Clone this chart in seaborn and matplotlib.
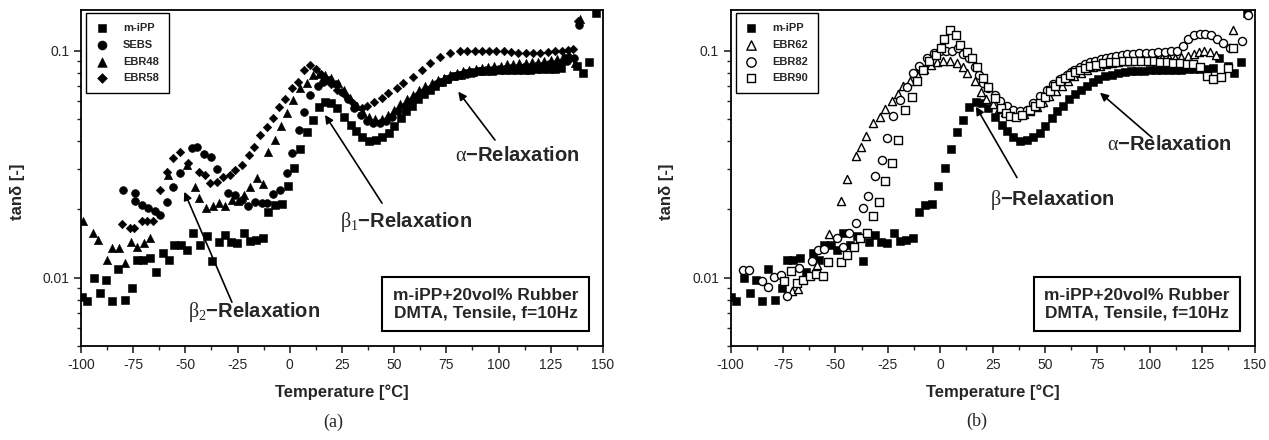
import numpy as np
import pandas as pd
import matplotlib
matplotlib.use("Agg")
import matplotlib.pyplot as plt
import seaborn as sns
from matplotlib.ticker import (LogLocator, NullFormatter, FixedLocator,
                               FuncFormatter, MultipleLocator)

sns.set_style("ticks")
plt.rcParams['font.family'] = ['Liberation Sans', 'DejaVu Sans']
plt.rcParams['mathtext.fontset'] = 'custom'
plt.rcParams['mathtext.rm'] = 'Liberation Serif'
plt.rcParams['mathtext.it'] = 'Liberation Serif'
plt.rcParams['mathtext.bf'] = 'Liberation Serif:bold'
plt.rcParams['axes.unicode_minus'] = False

# ---------------- data ----------------
# m-iPP (same sample in both panels)
t_mipp = [-99.7, -97.3, -93.8, -90.9, -88.0, -85.0, -82.1, -78.8, -75.7, -73.0,
          -70.2, -67.0, -64.1, -60.9, -58.0, -55.5, -52.3, -49.1, -46.2, -43.0,
          -39.8, -37.1, -33.9, -31.0, -28.3, -25.2, -21.9, -19.0, -16.3, -13.0,
          -10.3, -7.1, -3.9, -1.0, 2.2, 4.9, 8.1, 11.0, 13.8, 16.9,
          20.0, 22.8, 26.1, 29.3, 31.7, 34.8, 38.0, 41.2, 44.4, 47.6,
          50.0, 53.2, 55.8, 58.7, 61.5, 64.3, 67.0, 69.8, 72.7, 75.4,
          78.6, 81.8, 85.0, 88.0, 91.0, 94.0, 97.0, 100.0, 103.0, 106.0,
          109.0, 112.0, 115.0, 118.0, 121.0, 124.0, 127.0, 130.0, 133.0, 137.4,
          140.3, 143.3, 146.5]
tan_mipp = [0.0082, 0.0079, 0.0100, 0.0086, 0.0098, 0.0079, 0.0109, 0.0080, 0.0090, 0.0120,
            0.0120, 0.0122, 0.0106, 0.0129, 0.0120, 0.0139, 0.0140, 0.0133, 0.0157, 0.0139,
            0.0153, 0.0119, 0.0143, 0.0154, 0.0143, 0.0142, 0.0157, 0.0145, 0.0147, 0.0150,
            0.0195, 0.0209, 0.0211, 0.0254, 0.0305, 0.0368, 0.0440, 0.0495, 0.0567, 0.0596,
            0.0590, 0.0558, 0.0510, 0.0472, 0.0441, 0.0417, 0.0399, 0.0403, 0.0417, 0.0434,
            0.0467, 0.0506, 0.0541, 0.0573, 0.0613, 0.0647, 0.0673, 0.0701, 0.0725, 0.0750,
            0.0770, 0.0785, 0.0800, 0.0805, 0.0810, 0.0812, 0.0815, 0.0818, 0.0820, 0.0820,
            0.0822, 0.0823, 0.0825, 0.0827, 0.0830, 0.0830, 0.0832, 0.0835, 0.0930, 0.0853,
            0.0800, 0.0890, 0.1460]

# panel (a)
t_sebs = [-80.0, -74.0, -74.0, -71.0, -67.8, -64.6, -62.0, -58.7, -56.1, -52.8,
          -47.0, -44.2, -41.0, -37.8, -35.0, -29.4, -26.1, -22.9, -19.8, -16.7,
          -13.5, -11.0, -7.9, -4.5, -1.5, 1.3, 4.2, 6.9, 9.8, 13.3,
          16.0, 19.0, 22.0, 25.0, 28.0, 31.0, 34.0, 37.0, 40.0, 43.0,
          46.0, 49.0, 52.0, 55.0, 58.0, 61.0, 64.0, 67.0, 70.0, 73.0,
          76.0, 79.0, 82.0, 85.0, 88.0, 91.0, 94.0, 97.0, 100.0, 103.0,
          106.0, 109.0, 112.0, 115.0, 118.0, 121.0, 124.0, 127.0, 130.0, 133.0,
          136.0, 138.5]
tan_sebs = [0.0243, 0.0237, 0.0218, 0.0210, 0.0202, 0.0197, 0.0189, 0.0215, 0.0252, 0.0290,
            0.0372, 0.0375, 0.0350, 0.0339, 0.0300, 0.0235, 0.0231, 0.0219, 0.0206, 0.0216,
            0.0214, 0.0213, 0.0234, 0.0243, 0.0288, 0.0353, 0.0448, 0.0539, 0.0638, 0.0696,
            0.0730, 0.0740, 0.0710, 0.0660, 0.0610, 0.0560, 0.0520, 0.0490, 0.0480, 0.0480,
            0.0490, 0.0510, 0.0540, 0.0570, 0.0600, 0.0630, 0.0660, 0.0680, 0.0710, 0.0730,
            0.0750, 0.0770, 0.0780, 0.0790, 0.0800, 0.0810, 0.0820, 0.0820, 0.0830, 0.0830,
            0.0840, 0.0840, 0.0850, 0.0850, 0.0860, 0.0860, 0.0870, 0.0870, 0.0880, 0.0900,
            0.0930, 0.1300]

t_ebr48 = [-99.2, -94.1, -91.7, -87.7, -85.2, -82.0, -78.8, -76.2, -73.0, -69.7,
           -66.8, -58.2, -49.4, -45.3, -43.7, -40.1, -36.9, -33.7, -31.0, -27.8,
           -24.6, -21.9, -19.0, -15.9, -13.0, -10.2, -7.1, -4.2, -1.5, 1.7,
           4.9, 8.1, 11.0, 14.0, 17.0, 20.0, 23.0, 26.0, 29.0, 32.0,
           35.0, 38.0, 41.0, 44.0, 47.0, 50.0, 53.0, 56.0, 59.0, 62.0,
           65.0, 68.0, 71.0, 74.0, 77.0, 80.0, 83.0, 86.0, 89.0, 92.0,
           95.0, 98.0, 101.0, 104.0, 107.0, 110.0, 113.0, 116.0, 119.0, 122.0,
           125.0, 128.0, 131.0, 134.0, 136.5, 139.0]
tan_ebr48 = [0.0177, 0.0157, 0.0147, 0.0120, 0.0135, 0.0135, 0.0116, 0.0144, 0.0137, 0.0142,
             0.0149, 0.0283, 0.0314, 0.0252, 0.0224, 0.0202, 0.0206, 0.0213, 0.0207, 0.0219,
             0.0218, 0.0231, 0.0252, 0.0274, 0.0259, 0.0359, 0.0404, 0.0466, 0.0533, 0.0607,
             0.0683, 0.0723, 0.0780, 0.0790, 0.0780, 0.0760, 0.0720, 0.0670, 0.0620, 0.0570,
             0.0530, 0.0510, 0.0500, 0.0500, 0.0520, 0.0550, 0.0580, 0.0610, 0.0640, 0.0670,
             0.0700, 0.0720, 0.0740, 0.0760, 0.0780, 0.0800, 0.0810, 0.0820, 0.0830, 0.0840,
             0.0850, 0.0860, 0.0860, 0.0870, 0.0870, 0.0880, 0.0880, 0.0890, 0.0890, 0.0900,
             0.0910, 0.0920, 0.0940, 0.0960, 0.0880, 0.1380]

t_ebr58 = [-80.5, -76.5, -74.5, -71.0, -68.3, -65.4, -62.0, -58.7, -55.7, -52.4,
           -48.6, -43.7, -40.5, -38.1, -35.0, -31.8, -28.8, -26.1, -22.9, -19.7,
           -17.0, -14.1, -11.0, -8.2, -5.0, -2.2, 0.9, 4.1, 6.9, 9.8,
           12.5, 15.0, 17.5, 20.0, 22.5, 26.4, 30.4, 34.4, 36.8, 40.3,
           44.0, 47.2, 51.2, 54.4, 59.2, 63.2, 67.2, 72.0, 76.7, 81.5,
           85.0, 88.5, 92.0, 95.5, 99.0, 102.5, 106.0, 109.5, 113.0, 116.5,
           120.0, 123.5, 127.0, 130.5, 133.5, 135.8, 138.0]
tan_ebr58 = [0.0173, 0.0165, 0.0165, 0.0177, 0.0177, 0.0177, 0.0243, 0.0293, 0.0336, 0.0359,
             0.0319, 0.0293, 0.0283, 0.0261, 0.0265, 0.0279, 0.0283, 0.0298, 0.0314, 0.0347,
             0.0378, 0.0425, 0.0460, 0.0504, 0.0567, 0.0610, 0.0683, 0.0730, 0.0822, 0.0865,
             0.0830, 0.0790, 0.0750, 0.0710, 0.0670, 0.0638, 0.0587, 0.0557, 0.0570, 0.0596,
             0.0617, 0.0650, 0.0683, 0.0723, 0.0768, 0.0822, 0.0880, 0.0942, 0.0975, 0.1000,
             0.1000, 0.1000, 0.1000, 0.1000, 0.1000, 0.1000, 0.0990, 0.0980, 0.0975, 0.0975,
             0.0980, 0.0990, 0.1000, 0.1000, 0.1010, 0.1020, 0.1350]

# panel (b)
t_ebr62 = [-70.9, -68.0, -59.0, -53.1, -47.3, -44.4, -40.2, -38.0, -35.4, -32.0,
           -28.8, -26.4, -23.2, -20.0, -17.7, -14.5, -11.3, -7.8, -4.6, -1.7,
           1.5, 4.7, 7.9, 10.7, 12.9, 16.6, 19.3, 22.0, 25.0, 28.0,
           31.0, 34.0, 37.0, 40.0, 43.0, 46.0, 49.0, 52.0, 55.0, 58.0,
           61.0, 64.0, 67.0, 70.0, 73.0, 76.0, 79.0, 82.0, 85.0, 88.0,
           91.0, 94.0, 97.0, 100.0, 103.0, 106.0, 109.0, 112.0, 115.0, 118.0,
           121.0, 123.5, 126.0, 128.5, 131.5, 139.5]
tan_ebr62 = [0.0087, 0.0089, 0.0114, 0.0155, 0.0217, 0.0272, 0.0342, 0.0377, 0.0420, 0.0480,
             0.0510, 0.0553, 0.0598, 0.0647, 0.0701, 0.0732, 0.0790, 0.0830, 0.0868, 0.0888,
             0.0900, 0.0900, 0.0880, 0.0850, 0.0798, 0.0732, 0.0655, 0.0610, 0.0580, 0.0555,
             0.0535, 0.0525, 0.0520, 0.0525, 0.0540, 0.0565, 0.0595, 0.0630, 0.0665, 0.0700,
             0.0735, 0.0770, 0.0800, 0.0825, 0.0845, 0.0860, 0.0875, 0.0885, 0.0895, 0.0900,
             0.0905, 0.0910, 0.0915, 0.0920, 0.0920, 0.0925, 0.0930, 0.0930, 0.0935, 0.0950,
             0.0970, 0.0990, 0.1000, 0.0990, 0.0960, 0.1230]

t_ebr82 = [-94.3, -91.1, -85.2, -82.3, -79.3, -76.1, -73.3, -67.3, -61.4, -58.2,
           -55.5, -49.4, -46.3, -43.4, -40.2, -37.0, -34.3, -31.2, -28.0, -25.3,
           -22.4, -19.2, -16.0, -12.9, -10.0, -6.5, -3.0, -0.1, 2.7, 5.4,
           8.6, 11.0, 13.8, 16.6, 18.5, 20.5, 22.9, 26.1, 28.5, 31.7,
           34.8, 38.0, 41.2, 44.4, 47.6, 50.8, 54.0, 57.0,
           60.3, 62.2, 64.0, 66.5, 69.0, 71.5, 74.0, 76.5, 79.0, 81.5,
           84.0, 86.5, 89.0, 92.0, 95.0, 98.0, 101.0, 104.0, 107.0, 110.0,
           113.0, 115.8, 118.3, 121.0, 123.8, 126.5, 129.2, 132.0, 134.8, 138.2,
           143.8, 147.0]
tan_ebr82 = [0.0108, 0.0108, 0.0097, 0.0091, 0.0101, 0.0103, 0.0083, 0.0110, 0.0118, 0.0132,
             0.0134, 0.0150, 0.0136, 0.0157, 0.0174, 0.0203, 0.0228, 0.0281, 0.0331, 0.0413,
             0.0514, 0.0604, 0.0692, 0.0798, 0.0859, 0.0929, 0.0977, 0.1000, 0.1000, 0.1000,
             0.1030, 0.0970, 0.0930, 0.0850, 0.0780, 0.0721, 0.0686, 0.0640, 0.0598, 0.0569,
             0.0550, 0.0540, 0.0550, 0.0589, 0.0629, 0.0673, 0.0710, 0.0750,
             0.0784, 0.0805, 0.0825, 0.0850, 0.0870, 0.0888, 0.0902, 0.0915, 0.0927, 0.0937,
             0.0948, 0.0958, 0.0965, 0.0970, 0.0973, 0.0976, 0.0979, 0.0983, 0.0988, 0.0994,
             0.1000, 0.1050, 0.1120, 0.1170, 0.1180, 0.1180, 0.1170, 0.1130, 0.1080, 0.1030,
             0.1100, 0.1440]

t_ebr90 = [-74.6, -71.4, -68.5, -65.4, -62.2, -59.3, -56.1, -53.4, -47.4, -44.4,
           -41.2, -38.3, -35.1, -32.0, -29.1, -26.4, -23.2, -20.0, -16.8, -13.6,
           -11.0, -8.1, -5.2, -2.0, 0.3, 2.0, 4.6, 7.5, 9.4, 12.6,
           15.0, 17.4, 20.5, 23.0, 26.0, 29.0, 31.2, 33.3, 36.0, 39.0,
           42.8, 45.2, 47.6, 50.0, 52.3, 54.7, 57.1, 59.5, 61.9, 64.3,
           66.7, 69.0, 71.4, 74.5, 77.8, 81.0, 84.0, 87.0, 90.0, 93.0,
           96.0, 99.0, 102.0, 105.0, 108.0, 111.0, 114.4, 117.5, 120.8, 124.0,
           127.1, 130.2, 134.0, 137.4, 139.7]
tan_ebr90 = [0.0097, 0.0107, 0.0095, 0.0098, 0.0102, 0.0104, 0.0102, 0.0117, 0.0117, 0.0126,
             0.0137, 0.0149, 0.0158, 0.0187, 0.0215, 0.0266, 0.0320, 0.0406, 0.0546, 0.0625,
             0.0732, 0.0825, 0.0897, 0.0961, 0.1030, 0.1120, 0.1230, 0.1170, 0.1060, 0.0990,
             0.0930, 0.0850, 0.0758, 0.0690, 0.0620, 0.0560, 0.0530, 0.0514, 0.0510, 0.0520,
             0.0550, 0.0570, 0.0589, 0.0625, 0.0662, 0.0698, 0.0732, 0.0758, 0.0784, 0.0805,
             0.0825, 0.0840, 0.0853, 0.0868, 0.0883, 0.0890, 0.0895, 0.0898, 0.0900, 0.0900,
             0.0900, 0.0900, 0.0898, 0.0895, 0.0890, 0.0885, 0.0880, 0.0875, 0.0870, 0.0850,
             0.0775, 0.0750, 0.0765, 0.0840, 0.1025]

box_text = "m-iPP+20vol% Rubber\nDMTA, Tensile, f=10Hz"


def draw(ax, t, tan, label, marker, size, filled):
    df = pd.DataFrame({'T': t, 'tan': tan})
    if filled:
        sns.scatterplot(data=df, x='T', y='tan', ax=ax, marker=marker, s=size,
                        color='black', edgecolor='black', linewidth=0.4, label=label)
    else:
        sns.scatterplot(data=df, x='T', y='tan', ax=ax, marker=marker, s=size,
                        color='white', edgecolor='black', linewidth=1.0, label=label)


def style_axis(ax):
    ax.set_yscale('log')
    ax.set_xlim(-100, 150)
    ax.set_ylim(0.005, 0.151)
    ax.xaxis.set_major_locator(MultipleLocator(25))
    ax.xaxis.set_minor_locator(MultipleLocator(12.5))
    ax.yaxis.set_major_locator(FixedLocator([0.01, 0.1]))
    ax.yaxis.set_major_formatter(FuncFormatter(lambda v, p: f"{v:g}"))
    ax.yaxis.set_minor_locator(LogLocator(base=10, subs=np.arange(2, 10)))
    ax.yaxis.set_minor_formatter(NullFormatter())
    ax.tick_params(which='major', length=5, width=1.2, labelsize=10, direction='out')
    ax.tick_params(which='minor', length=3, width=1.0, direction='out')
    for sp in ax.spines.values():
        sp.set_linewidth(1.3)
        sp.set_color('black')
    ax.set_xlabel('Temperature [°C]', fontsize=12, fontweight='bold', labelpad=9)
    ax.set_ylabel('tanδ [-]', fontsize=12, fontweight='bold')
    ax.yaxis.set_label_coords(-0.108, 0.46)
    leg = ax.legend(loc='upper left', bbox_to_anchor=(0.01, 0.99), frameon=True,
                    fancybox=False, edgecolor='black', framealpha=1,
                    prop={'weight': 'bold', 'size': 8}, handlelength=1.0,
                    handletextpad=1.4, borderpad=0.9, labelspacing=0.6,
                    borderaxespad=0, markerscale=1.15)
    leg.get_frame().set_linewidth(1.0)
    ax.text(0.775, 0.125, box_text, transform=ax.transAxes, ha='center', va='center',
            fontsize=12.5, fontweight='bold', linespacing=1.25,
            bbox=dict(boxstyle='square,pad=0.6', fc='white', ec='black', lw=1.5))


def arrow(ax, head, tail):
    ax.annotate('', xy=head, xytext=tail,
                arrowprops=dict(arrowstyle='-|>', color='black', lw=1.2,
                                mutation_scale=12, shrinkA=0, shrinkB=0))


fig = plt.figure(figsize=(12.69, 4.4), dpi=100)
ax1 = fig.add_axes([0.0638, 0.2136, 0.4113, 0.7636])
ax2 = fig.add_axes([0.5758, 0.2136, 0.4129, 0.7636])

# ---- panel (a)
draw(ax1, t_mipp, tan_mipp, 'm-iPP', 's', 26, True)
draw(ax1, t_sebs, tan_sebs, 'SEBS', 'o', 32, True)
draw(ax1, t_ebr48, tan_ebr48, 'EBR48', '^', 36, True)
draw(ax1, t_ebr58, tan_ebr58, 'EBR58', 'D', 19, True)
style_axis(ax1)

arrow(ax1, (80.7, 0.066), (98.3, 0.0404))
ax1.text(79, 0.0347, r'$\alpha$−Relaxation', fontsize=14.5, fontweight='bold', va='center')
arrow(ax1, (16.9, 0.0521), (44.2, 0.0213))
ax1.text(24, 0.0176, r'$\beta_1$−Relaxation', fontsize=14.5, fontweight='bold', va='center')
arrow(ax1, (-50.5, 0.0239), (-27.7, 0.0078))
ax1.text(-48.8, 0.00706, r'$\beta_2$−Relaxation', fontsize=14.5, fontweight='bold', va='center')

# ---- panel (b)
draw(ax2, t_mipp, tan_mipp, 'm-iPP', 's', 26, True)
draw(ax2, t_ebr62, tan_ebr62, 'EBR62', '^', 34, False)
draw(ax2, t_ebr82, tan_ebr82, 'EBR82', 'o', 34, False)
draw(ax2, t_ebr90, tan_ebr90, 'EBR90', 's', 30, False)
style_axis(ax2)

arrow(ax2, (76.2, 0.0653), (101.0, 0.0414))
ax2.text(79.6, 0.0385, r'$\alpha$−Relaxation', fontsize=14.5, fontweight='bold', va='center')
arrow(ax2, (17.0, 0.0567), (36.6, 0.0276))
ax2.text(23.7, 0.022, r'$\beta$−Relaxation', fontsize=14.5, fontweight='bold', va='center')

fig.text(333 / 1269, 1 - 422 / 440, '(a)', family='Liberation Serif', fontsize=13,
         ha='center', va='center')
fig.text(977 / 1269, 1 - 421 / 440, '(b)', family='Liberation Serif', fontsize=13,
         ha='center', va='center')

fig.savefig('out.png', dpi=100)
